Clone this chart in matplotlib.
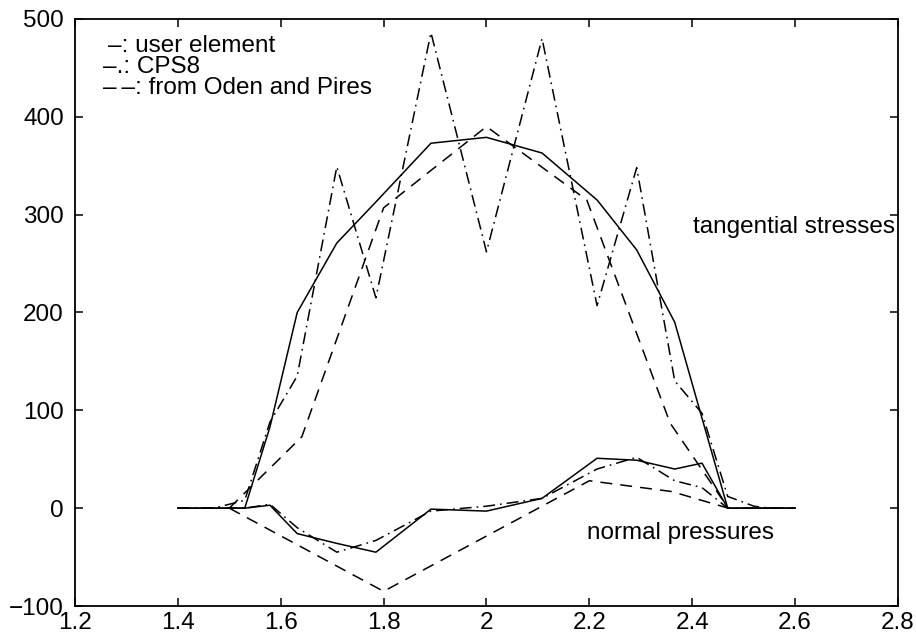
import matplotlib
matplotlib.use("Agg")
import matplotlib.pyplot as plt
from matplotlib.ticker import FormatStrFormatter, MultipleLocator

plt.rcParams["font.family"] = ["Liberation Sans", "DejaVu Sans"]
plt.rcParams["lines.scale_dashes"] = False

# user element (solid)
x_user = [1.4, 1.53, 1.579, 1.632, 1.709, 1.785, 1.892, 2.0, 2.108, 2.215, 2.292, 2.366, 2.419, 2.469, 2.6]
tang_user = [0, 0, 83, 200, 271, 313, 373, 379, 363, 315, 264, 190, 92, 0, 0]
norm_user = [0, 0, 3, -26, -36, -45, -1, -3, 10, 51, 49, 40, 46, 0, 0]

# CPS8 (dash-dot)
x_cps8 = [1.4, 1.47, 1.53, 1.579, 1.632, 1.709, 1.785, 1.892, 2.0, 2.108, 2.215, 2.292, 2.366, 2.419, 2.469, 2.52, 2.55, 2.6]
tang_cps8 = [0, 0, 8, 88, 135, 349, 215, 486, 262, 480, 207, 348, 130, 97, 12, 2, 0, 0]
norm_cps8 = [0, 0, 0, 4, -20, -45, -33, -3, 2, 10, 40, 52, 28, 21, 0, 0, 0, 0]

# Oden and Pires (dashed)
x_oden_t = [1.5, 1.641, 1.8, 2.0, 2.195, 2.357, 2.47]
tang_oden = [0, 73, 307, 390, 315, 87, 0]
x_oden_n = [1.5, 1.8, 2.2, 2.36, 2.47]
norm_oden = [0, -85, 28, 17, 0]

fig = plt.figure(figsize=(9.16, 6.41), dpi=100)
ax = fig.add_axes([0.0819, 0.0546, 0.8984, 0.9158])

lw = 1.1
solid = dict(color="black", lw=lw, linestyle="-")
dashdot = dict(color="black", lw=lw, linestyle=(0, (8.6, 3.6, 1.2, 3.6)))
dashed = dict(color="black", lw=lw, linestyle=(0, (8.6, 5.8)))

ax.plot(x_user, tang_user, **solid)
ax.plot(x_user, norm_user, **solid)
ax.plot(x_cps8, tang_cps8, **dashdot)
ax.plot(x_cps8, norm_cps8, **dashdot)
ax.plot(x_oden_t, tang_oden, **dashed)
ax.plot(x_oden_n, norm_oden, **dashed)

fs = 17.5
ax.text(1.264, 472, "\u2013: user element", fontsize=fs, va="center", ha="left")
ax.text(1.254, 451, "\u2013.: CPS8", fontsize=fs, va="center", ha="left")
ax.text(1.254, 429, "\u2013\u2009\u2013: from Oden and Pires", fontsize=fs, va="center", ha="left")
ax.text(2.401, 287, "tangential stresses", fontsize=fs, va="center", ha="left")
ax.text(2.195, -25, "normal pressures", fontsize=fs, va="center", ha="left")

ax.set_xlim(1.2, 2.8)
ax.set_ylim(-100, 500)
ax.xaxis.set_major_locator(MultipleLocator(0.2))
ax.yaxis.set_major_locator(MultipleLocator(100))
ax.xaxis.set_major_formatter(FormatStrFormatter("%g"))
ax.tick_params(direction="in", length=6, width=1.1, top=True, right=True, labelsize=fs)
ax.tick_params(axis="y", pad=8)
ax.tick_params(axis="x", pad=4)
for s in ax.spines.values():
    s.set_linewidth(1.3)

fig.savefig("out.png", dpi=100)
